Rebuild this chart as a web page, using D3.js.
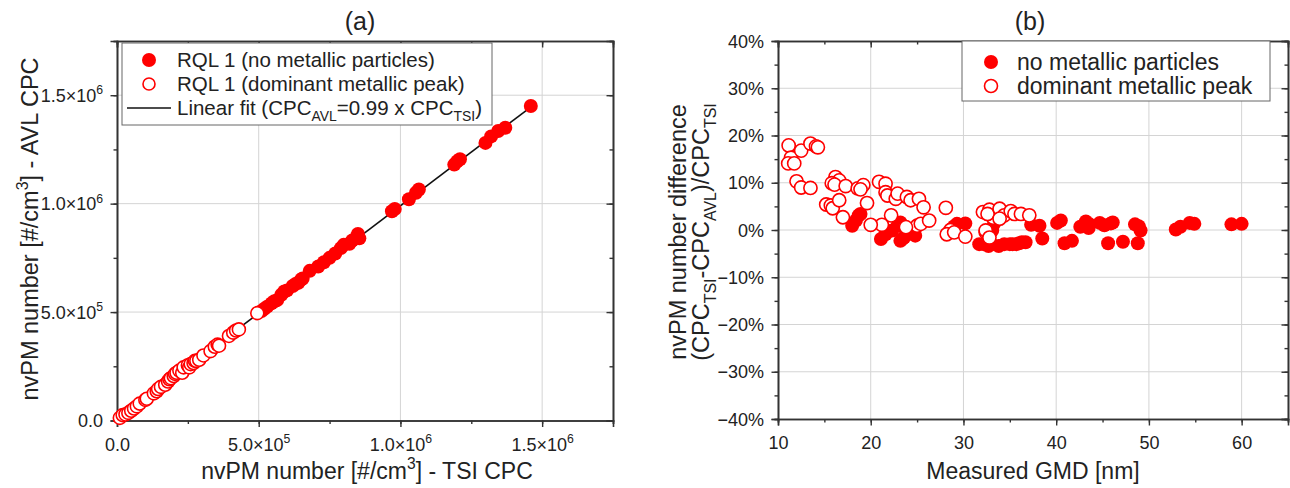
<!DOCTYPE html>
<html><head><meta charset="utf-8">
<script src="https://cdn.jsdelivr.net/npm/d3@7"></script>
<style>
body{margin:0;background:#fff}
svg{display:block}
text{font-family:"Liberation Sans",Arial,sans-serif;fill:#222}
</style>
</head><body>
<svg id="chart" width="1290" height="488"></svg>
<script>
// ---------- DATA (panel a: values in units of 1e5 #/cm3) ----------
const aOpenTSI = [0.1,0.2,0.3,0.4,0.5,0.6,0.7,0.8,1.0,1.05,1.3,1.4,1.45,1.55,1.7,1.8,1.85,1.9,2.0,2.05,2.1,2.2,2.3,2.35,2.5,2.55,2.6,2.7,2.75,2.8,2.9,3.05,3.3,3.45,3.55,3.6,3.95,4.1,4.2,4.3,4.95];
const aOpenAVL = [0.12,0.25,0.28,0.35,0.45,0.55,0.65,0.78,0.95,1.0,1.25,1.35,1.45,1.55,1.65,1.8,1.9,1.95,2.05,2.15,2.2,2.3,2.2,2.45,2.55,2.45,2.6,2.65,2.75,2.75,2.8,3.0,3.2,3.4,3.5,3.45,3.9,4.05,4.15,4.2,4.95];
const aFillTSI = [5.1,5.2,5.3,5.45,5.55,5.65,5.8,5.9,6.0,6.2,6.3,6.4,6.5,6.55,6.8,7.1,7.3,7.5,7.7,7.9,8.0,8.2,8.3,8.45,8.5,8.55,9.7,9.8,10.3,10.55,10.65,11.9,12.0,12.1,13.0,13.2,13.45,13.7,14.6];
const aFillAVL = [5.05,5.15,5.25,5.4,5.5,5.55,5.8,5.95,6.0,6.2,6.3,6.35,6.5,6.55,6.9,7.1,7.3,7.5,7.7,7.95,8.1,8.15,8.3,8.45,8.6,8.4,9.65,9.75,10.2,10.5,10.65,11.8,11.95,12.05,12.8,13.1,13.35,13.5,14.5];
const fitSlope = 0.99;
const fitRange = [0, 14.6];
const aMajorTicks = [0, 5, 10, 15];
const aLegend = ["RQL 1 (no metallic particles)", "RQL 1 (dominant metallic peak)"];

// ---------- DATA (panel b: GMD nm, difference %) ----------
const bFillGMD = [18.0,18.4,18.7,18.9,21.1,21.6,22.3,22.9,23.2,23.6,23.9,23.4,23.2,24.8,29.0,29.3,30.2,31.7,32.2,32.7,33.0,33.8,34.4,35.0,35.3,35.7,36.0,36.3,36.7,33.1,33.3,33.6,37.3,38.2,38.5,40.1,40.5,40.9,41.7,42.6,43.2,43.5,43.6,44.7,45.2,45.9,46.1,45.6,47.2,48.5,48.9,49.1,48.8,52.9,53.4,54.4,54.9,58.9,60.0];
const bFillDiff = [0.9,2.0,3.1,3.4,-1.9,-0.9,-0.1,0.9,1.6,-1.6,-0.1,-1.9,-2.3,-1.2,0.8,1.3,1.4,-3.0,-3.0,-3.4,-3.0,-3.4,-3.0,-3.0,-3.0,-3.0,-2.8,-2.6,-2.6,-0.1,1.3,2.5,1.1,0.9,-1.8,1.5,2.0,-2.8,-2.3,0.7,1.8,0.4,1.2,1.5,1.0,1.4,1.6,-2.8,-2.5,1.2,0.8,-0.1,-2.8,0.1,0.7,1.5,1.3,1.2,1.3];
const bOpenGMD = [11.15,11.4,11.1,11.75,12.5,13.5,14.1,14.3,12.0,12.5,13.5,15.2,15.7,15.9,16.2,16.6,15.8,16.1,17.3,16.6,17.0,18.6,19.2,18.9,19.6,20.9,21.6,21.6,21.8,22.7,22.9,23.9,24.3,25.2,25.7,25.0,25.4,26.3,28.1,23.8,22.2,21.2,20.0,28.6,28.2,29.0,30.2,32.1,32.8,33.2,33.8,32.4,32.6,33.9,34.4,35.1,35.5,36.2,37.1,33.9,32.4,32.8];
const bOpenDiff = [17.9,15.3,14.1,14.1,16.8,18.3,17.7,17.5,10.3,9.0,8.9,5.4,5.2,4.6,11.2,10.5,9.9,9.6,9.3,6.3,2.7,8.8,9.5,8.6,5.7,10.2,9.8,8.0,7.3,6.6,7.7,7.0,6.3,6.6,4.8,0.9,1.3,2.0,4.7,0.6,3.1,1.1,1.1,0.0,-0.9,-0.5,-1.4,3.8,4.3,2.6,3.8,-0.5,3.4,4.5,3.1,4.0,3.4,3.4,3.1,2.4,-0.1,-1.6];
const bXTicks = [10,20,30,40,50,60];
const bYTicks = [-40,-30,-20,-10,0,10,20,30,40];
const bLegend = ["no metallic particles", "dominant metallic peak"];

// ---------- helpers ----------
const RED = "#ff0000";
const svg = d3.select("#chart");

function rich(t, parts, fs) {
  let off = 0;
  parts.forEach(([s, k]) => {
    const target = k === "sup" ? -0.42 * fs : k === "sub" ? 0.3 * fs : 0;
    t.append("tspan").text(s)
      .attr("dy", target - off)
      .attr("font-size", k === "n" ? fs : 0.68 * fs);
    off = target;
  });
}
function sciParts(v) {
  if (v === 0) return [["0.0", "n"]];
  const e = Math.floor(Math.log10(v) + 1e-9);
  const m = (v / Math.pow(10, e)).toFixed(1);
  return [[m + "×10", "n"], [String(e), "sup"]];
}
function styleAxis(g) {
  g.select(".domain").attr("stroke", "#333").attr("stroke-width", 1.6);
  g.selectAll(".tick line").attr("stroke", "#333").attr("stroke-width", 1.4);
}

function frame(x, y, xMajor, xMinor, yMajor, yMinor, labelX, labelY) {
  const [x0, x1] = x.range(), [y0, y1] = y.range();
  const g = svg.append("g");
  g.append("g").selectAll("line").data(xMajor.filter(v => x(v) > x0 + 1 && x(v) < x1 - 1)).join("line")
    .attr("x1", d => x(d)).attr("x2", d => x(d)).attr("y1", y0).attr("y2", y1)
    .attr("stroke", "#d4d4d4").attr("stroke-width", 1);
  g.append("g").selectAll("line").data(yMajor.filter(v => y(v) < y0 - 1 && y(v) > y1 + 1)).join("line")
    .attr("y1", d => y(d)).attr("y2", d => y(d)).attr("x1", x0).attr("x2", x1)
    .attr("stroke", "#d4d4d4").attr("stroke-width", 1);
  const gx = svg.append("g").attr("transform", `translate(0,${y0})`)
    .call(d3.axisBottom(x).tickValues(xMinor).tickSize(3.5).tickFormat(""));
  styleAxis(gx);
  const gxt = svg.append("g").attr("transform", `translate(0,${y1})`)
    .call(d3.axisTop(x).tickValues(xMinor).tickSize(-3.5).tickFormat(""));
  styleAxis(gxt);
  const gy = svg.append("g").attr("transform", `translate(${x0},0)`)
    .call(d3.axisLeft(y).tickValues(yMinor).tickSize(3.5).tickFormat(""));
  styleAxis(gy);
  const gyr = svg.append("g").attr("transform", `translate(${x1},0)`)
    .call(d3.axisRight(y).tickValues(yMinor).tickSize(-3.5).tickFormat(""));
  styleAxis(gyr);
  const X = svg.append("g").attr("transform", `translate(0,${y0})`)
    .call(d3.axisBottom(x).tickValues(xMajor).tickSize(6.5).tickFormat(""));
  styleAxis(X);
  X.selectAll(".tick text").remove();
  X.selectAll(".tick").append("text").attr("y", 30).attr("text-anchor", "middle")
    .each(function (d) { labelX(d3.select(this), d); });
  const XT = svg.append("g").attr("transform", `translate(0,${y1})`)
    .call(d3.axisTop(x).tickValues(xMajor).tickSize(-6.5).tickFormat(""));
  styleAxis(XT);
  const Y = svg.append("g").attr("transform", `translate(${x0},0)`)
    .call(d3.axisLeft(y).tickValues(yMajor).tickSize(6.5).tickFormat(""));
  styleAxis(Y);
  Y.selectAll(".tick text").remove();
  Y.selectAll(".tick").append("text").attr("x", -14).attr("y", 6).attr("text-anchor", "end")
    .each(function (d) { labelY(d3.select(this), d); });
  const YR = svg.append("g").attr("transform", `translate(${x1},0)`)
    .call(d3.axisRight(y).tickValues(yMajor).tickSize(-6.5).tickFormat(""));
  styleAxis(YR);
}

// ---------- PANEL A ----------
const xA = d3.scaleLinear([0, 17.5], [117, 613]);
const yA = d3.scaleLinear([0, 17.5], [420.5, 41]);
const aMinor = d3.range(0, 17.51, 2.5);
frame(xA, yA, aMajorTicks, aMinor, aMajorTicks, aMinor,
  (t, d) => rich(t.attr("font-size", 18), sciParts(d * 1e5), 18),
  (t, d) => rich(t.attr("font-size", 18), sciParts(d * 1e5), 18));

const pa = svg.append("g");
pa.append("line")
  .attr("x1", xA(fitRange[0])).attr("y1", yA(fitRange[0] * fitSlope))
  .attr("x2", xA(fitRange[1])).attr("y2", yA(fitRange[1] * fitSlope))
  .attr("stroke", "#111").attr("stroke-width", 1.6);
pa.selectAll("circle.f").data(d3.zip(aFillTSI, aFillAVL)).join("circle").attr("class", "f")
  .attr("cx", d => xA(d[0])).attr("cy", d => yA(d[1])).attr("r", 7).attr("fill", RED);
pa.selectAll("circle.o").data(d3.zip(aOpenTSI, aOpenAVL)).join("circle").attr("class", "o")
  .attr("cx", d => xA(d[0])).attr("cy", d => yA(d[1])).attr("r", 6.5)
  .attr("fill", "#fff").attr("stroke", RED).attr("stroke-width", 1.6);

// legend a
const la = svg.append("g");
la.append("rect").attr("x", 122).attr("y", 43).attr("width", 370).attr("height", 82)
  .attr("fill", "#fff").attr("stroke", "#666").attr("stroke-width", 1);
la.append("circle").attr("cx", 149).attr("cy", 60).attr("r", 7).attr("fill", RED);
la.append("circle").attr("cx", 149).attr("cy", 84).attr("r", 6).attr("fill", "#fff").attr("stroke", RED).attr("stroke-width", 1.6);
la.append("line").attr("x1", 127).attr("x2", 171).attr("y1", 108).attr("y2", 108).attr("stroke", "#111").attr("stroke-width", 1.6);
la.append("text").attr("x", 177).attr("y", 67).attr("font-size", 20.5).text(aLegend[0]);
la.append("text").attr("x", 177).attr("y", 91).attr("font-size", 20.5).text(aLegend[1]);
rich(la.append("text").attr("x", 177).attr("y", 115).attr("font-size", 20.5),
  [["Linear fit (CPC", "n"], ["AVL", "sub"], ["=" + fitSlope.toFixed(2) + " x CPC", "n"], ["TSI", "sub"], [")", "n"]], 20.5);

// titles a
svg.append("text").attr("x", 360).attr("y", 30).attr("text-anchor", "middle").attr("font-size", 25).text("(a)");
rich(svg.append("text").attr("x", 367).attr("y", 479).attr("text-anchor", "middle").attr("font-size", 23),
  [["nvPM number [#/cm", "n"], ["3", "sup"], ["] - TSI CPC", "n"]], 23);
rich(svg.append("text").attr("transform", "translate(38,229) rotate(-90)").attr("text-anchor", "middle").attr("font-size", 23.5),
  [["nvPM number [#/cm", "n"], ["3", "sup"], ["] - AVL CPC", "n"]], 23.5);

// ---------- PANEL B ----------
const xB = d3.scaleLinear([10, 65], [778, 1288]);
const yB = d3.scaleLinear([-40, 40], [419, 41]);
frame(xB, yB, bXTicks, d3.range(10, 65.1, 5), bYTicks, d3.range(-40, 40.1, 5),
  (t, d) => t.attr("font-size", 18).text(d),
  (t, d) => t.attr("font-size", 18).text((d < 0 ? "\u2212" + (-d) : d) + "%"));

const pb = svg.append("g");
pb.selectAll("circle.f").data(d3.zip(bFillGMD, bFillDiff)).join("circle").attr("class", "f")
  .attr("cx", d => xB(d[0])).attr("cy", d => yB(d[1])).attr("r", 7).attr("fill", RED);
pb.selectAll("circle.o").data(d3.zip(bOpenGMD, bOpenDiff)).join("circle").attr("class", "o")
  .attr("cx", d => xB(d[0])).attr("cy", d => yB(d[1])).attr("r", 6.6)
  .attr("fill", "#fff").attr("stroke", RED).attr("stroke-width", 1.6);

const lb = svg.append("g");
lb.append("rect").attr("x", 962).attr("y", 41).attr("width", 308).attr("height", 60)
  .attr("fill", "#fff").attr("stroke", "#666").attr("stroke-width", 1);
lb.append("circle").attr("cx", 991).attr("cy", 62).attr("r", 7).attr("fill", RED);
lb.append("circle").attr("cx", 991).attr("cy", 86).attr("r", 6.5).attr("fill", "#fff").attr("stroke", RED).attr("stroke-width", 1.6);
lb.append("text").attr("x", 1017).attr("y", 70).attr("font-size", 23).text(bLegend[0]);
lb.append("text").attr("x", 1017).attr("y", 94).attr("font-size", 23).text(bLegend[1]);

svg.append("text").attr("x", 1030).attr("y", 30).attr("text-anchor", "middle").attr("font-size", 25).text("(b)");
svg.append("text").attr("x", 1033).attr("y", 479).attr("text-anchor", "middle").attr("font-size", 23).text("Measured GMD [nm]");
svg.append("text").attr("transform", "translate(686,232) rotate(-90)").attr("text-anchor", "middle").attr("font-size", 23.5).text("nvPM number difference");
rich(svg.append("text").attr("transform", "translate(709,232) rotate(-90)").attr("text-anchor", "middle").attr("font-size", 23.5),
  [["(CPC", "n"], ["TSI", "sub"], ["-CPC", "n"], ["AVL", "sub"], [")/CPC", "n"], ["TSI", "sub"]], 23.5);
</script>
</body></html>
